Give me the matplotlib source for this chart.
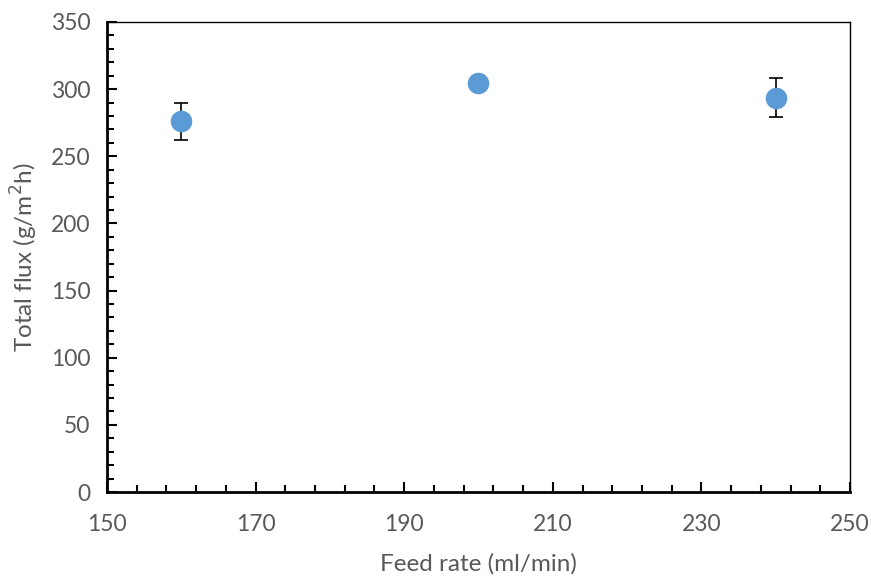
import numpy as np
import matplotlib.pyplot as plt
from matplotlib.ticker import FixedLocator, MultipleLocator

feed_rate = [160, 200, 240]
total_flux = [276, 304.5, 293.5]
flux_err = [14, 0, 14.5]
x_ticks = [150, 170, 190, 210, 230, 250]

plt.rcParams['font.family'] = ['Lato', 'DejaVu Sans']
grey = '#595959'

fig = plt.figure(figsize=(8.71, 5.77), dpi=100)
ax = fig.add_axes([0.1228, 0.1473, 0.8531, 0.8146])

ax.errorbar(feed_rate, total_flux, yerr=flux_err, fmt='o', color='#5B9BD5',
            markersize=14.5, ecolor='black', elinewidth=1.2, capsize=5,
            capthick=1.2, zorder=3)

ax.set_xlim(150, 250)
ax.set_ylim(0, 350)
ax.xaxis.set_major_locator(FixedLocator(x_ticks))
ax.xaxis.set_minor_locator(FixedLocator(np.arange(150, 251, 4)))
ax.yaxis.set_major_locator(MultipleLocator(50))
ax.yaxis.set_minor_locator(MultipleLocator(10))

ax.tick_params(which='both', direction='in', color='black', labelcolor=grey,
               labelsize=16.5, top=False, right=False)
ax.tick_params(which='major', length=7, width=1.5)
ax.tick_params(which='minor', length=5, width=1.5)
ax.tick_params(axis='x', pad=16)
ax.tick_params(axis='y', pad=12)

for side in ['left', 'bottom']:
    ax.spines[side].set_linewidth(2)
for side in ['top', 'right']:
    ax.spines[side].set_linewidth(1)

ax.set_xlabel('Feed rate (ml/min)', fontsize=17.5, color=grey, labelpad=13)
ax.set_ylabel('Total flux (g/m$^2$h)', fontsize=17.5, color=grey, labelpad=8)

fig.savefig('out.png', dpi=100)
